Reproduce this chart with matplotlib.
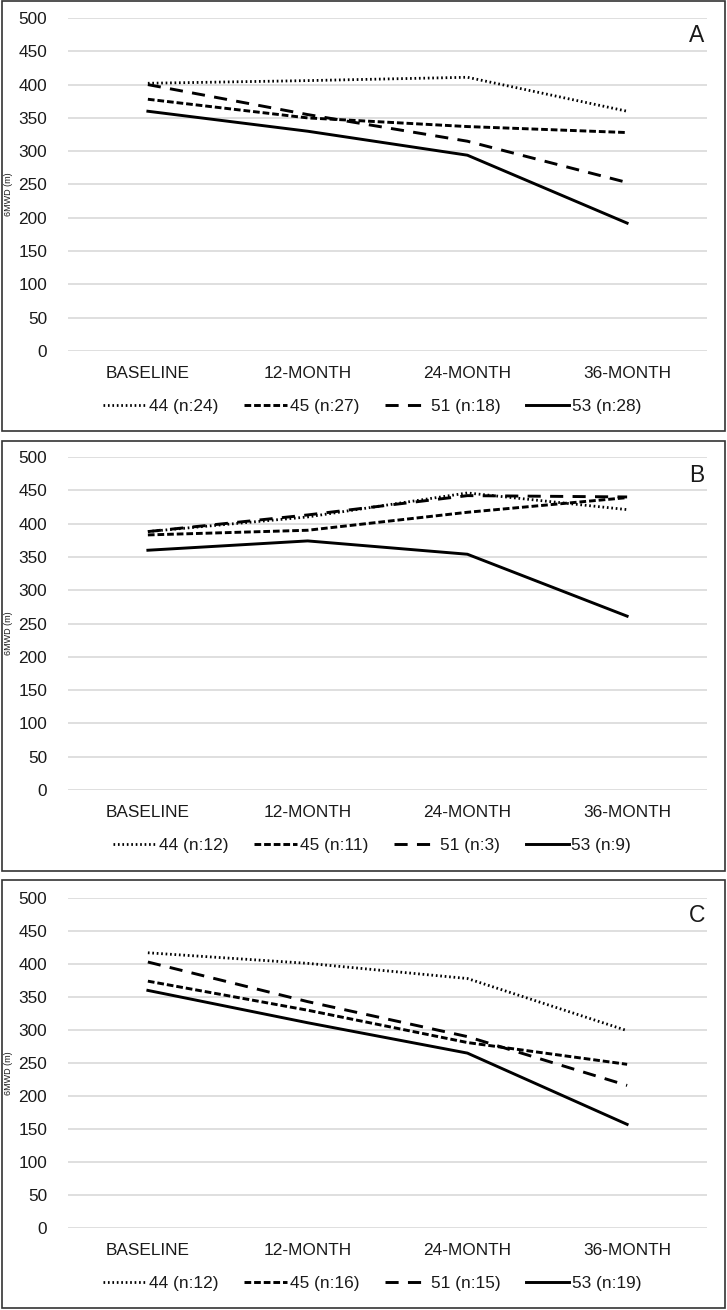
import matplotlib.pyplot as plt
from matplotlib.patches import Rectangle

plt.rcParams['font.family'] = ['Liberation Sans', 'DejaVu Sans']

months = ["BASELINE", "12-MONTH", "24-MONTH", "36-MONTH"]
series_names = ["44", "45", "51", "53"]

# panel A
a_44 = [402, 406, 411, 360]
a_45 = [378, 350, 337, 328]
a_51 = [400, 355, 315, 253]
a_53 = [360, 330, 294, 192]
a_n = [24, 27, 18, 28]

# panel B
b_44 = [388, 410, 446, 421]
b_45 = [383, 390, 417, 439]
b_51 = [388, 413, 442, 440]
b_53 = [360, 374, 354, 261]
b_n = [12, 11, 3, 9]

# panel C
c_44 = [417, 401, 378, 299]
c_45 = [374, 330, 281, 248]
c_51 = [403, 343, 290, 216]
c_53 = [360, 311, 265, 157]
c_n = [12, 16, 15, 19]

panels = [
    ("A", [a_44, a_45, a_51, a_53], a_n),
    ("B", [b_44, b_45, b_51, b_53], b_n),
    ("C", [c_44, c_45, c_51, c_53], c_n),
]

W, H = 727, 1310
fig = plt.figure(figsize=(W / 100, H / 100), dpi=100)

# pixel layout: (axes top, axes bottom, box top, box bottom)
layout = [(18, 351, 1, 431), (457, 790, 441, 871), (898, 1228, 880, 1308)]
ax_left, ax_right = 68, 707

lw = 2.1
styles = [
    dict(ls=(0, (0.6, 1.0)), lw=2.0),
    dict(ls=(0, (2.3, 1.0)), lw=lw),
    dict(ls=(0, (4.5, 3.2)), lw=lw),
    dict(ls='-', lw=lw),
]
txt = '#1a1a1a'

for (letter, vals, ns), (top, bot, btop, bbot) in zip(panels, layout):
    fig.patches.append(Rectangle((2 / W, 1 - bbot / H), 723 / W, (bbot - btop) / H,
                                 transform=fig.transFigure, fill=False,
                                 edgecolor='#333333', lw=1.2, zorder=0))
    ax = fig.add_axes([ax_left / W, 1 - bot / H, (ax_right - ax_left) / W, (bot - top) / H])
    x = range(len(months))
    for name, v, n, st in zip(series_names, vals, ns, styles):
        ax.plot(x, v, color='black', label=f"{name} (n:{n})", **st)
    ax.set_xlim(-0.5, 3.5)
    ax.set_ylim(0, 500)
    ax.set_yticks(range(0, 501, 50))
    ax.set_xticks(list(x))
    ax.set_xticklabels(months)
    ax.grid(axis='y', color='#d9d9d9', lw=1.2)
    ax.set_axisbelow(True)
    for s in ax.spines.values():
        s.set_visible(False)
    ax.tick_params(axis='y', length=0, pad=15, labelsize=12.4, labelcolor=txt)
    ax.tick_params(axis='x', length=0, pad=11, labelsize=12.4, labelcolor=txt)
    ax.text(697 / W, 1 - (top + 18) / H, letter, transform=fig.transFigure,
            fontsize=16.5, ha='center', va='center', color=txt)
    fig.text(9 / W, 1 - ((top + bot) / 2 + 10) / H, "6MWD (m)", rotation=90,
             fontsize=6.5, ha='center', va='center', color=txt)
    ax.legend(loc='center', bbox_to_anchor=(0.476, -0.168), ncol=4, frameon=False,
              fontsize=12.4, handlelength=2.5, handletextpad=0.15,
              columnspacing=1.5, labelcolor=txt)

fig.savefig("out.png", dpi=100)
